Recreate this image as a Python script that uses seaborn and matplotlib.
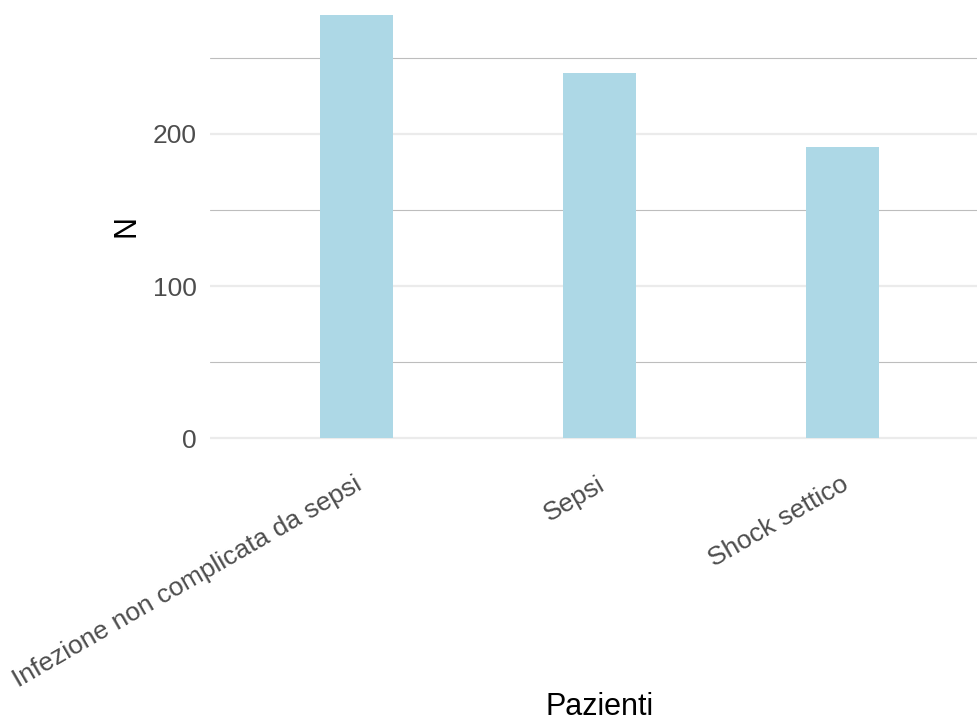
import matplotlib
matplotlib.use("Agg")
import matplotlib.pyplot as plt
import matplotlib.transforms as mtrans
import seaborn as sns
import pandas as pd

categories = ["Infezione non complicata da sepsi", "Sepsi", "Shock settico"]
values = [278, 240, 191]
y_ticks = [0, 100, 200]
y_minor = [50, 150, 250]

sns.set_theme(style="white")
plt.rcParams['font.family'] = ['Liberation Sans', 'DejaVu Sans']

df = pd.DataFrame({"Pazienti": categories, "N": values})

fig = plt.figure(figsize=(9.77, 7.27), dpi=100)
ax = fig.add_axes([0.2152, 0.3677, 0.796, 0.641])

sns.barplot(data=df, x="Pazienti", y="N", color="#ADD8E6", saturation=1,
            width=0.3, ax=ax, zorder=3, errorbar=None, linewidth=0)

ax.set_xlim(-0.6, 2.6)
ymax = max(values)
ax.set_ylim(-0.05 * ymax, ymax * 1.05)

for v in y_minor:
    ax.axhline(v, color="#bdbdbd", lw=0.8, zorder=1)
for v in y_ticks:
    ax.axhline(v, color="#ebebeb", lw=1.6, zorder=1)

ax.set_yticks(y_ticks)
ax.set_yticklabels([str(v) for v in y_ticks])
for s in ax.spines.values():
    s.set_visible(False)
ax.tick_params(axis="y", length=0, pad=9.5, labelsize=19, labelcolor="#4d4d4d")
ax.tick_params(axis="x", length=0, pad=9, labelsize=19, labelcolor="#4d4d4d")
shift = mtrans.ScaledTranslation(4 / 100, -10 / 100, fig.dpi_scale_trans)
for lab in ax.get_xticklabels():
    lab.set_rotation(30)
    lab.set_ha("right")
    lab.set_va("center")
    lab.set_rotation_mode("anchor")
    lab.set_transform(lab.get_transform() + shift)

ax.set_xlabel("Pazienti", fontsize=22, color="black")
ax.set_ylabel("N", fontsize=22, color="black")
ax.xaxis.set_label_coords(0.5, -0.498)
ax.xaxis.label.set_va("top")
ax.yaxis.set_label_coords(-0.088, 0.5015)

fig.savefig("out.png", dpi=100)
